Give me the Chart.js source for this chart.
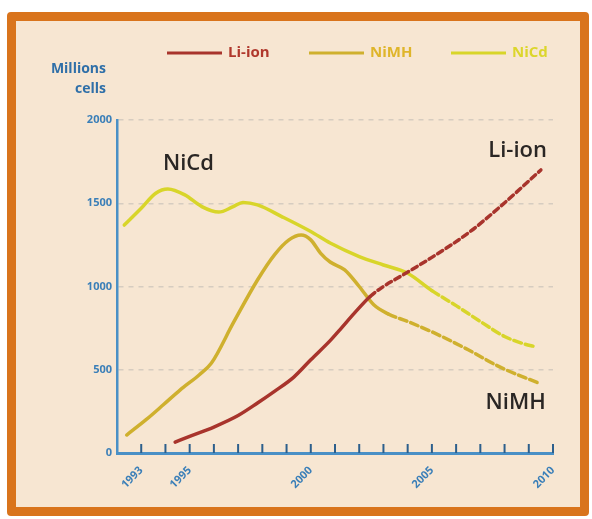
<!DOCTYPE html>
<html lang="en">
<head>
<meta charset="UTF-8">
<title>Battery cells by chemistry</title>
<script src="https://cdn.jsdelivr.net/npm/chart.js@4.4.1/dist/chart.umd.min.js"></script>
<style>
    body {
        margin: 0;
        background: #ffffff;
        font-family: 'Open Sans', sans-serif;
    }
    .frame {
        position: absolute;
        left: 7px;
        top: 12px;
        width: 582px;
        height: 504px;
        box-sizing: border-box;
        border: 9px solid #d9741c;
        border-radius: 4px;
        background: #f7e6d2;
    }
    .wrap {
        position: absolute;
        left: 0;
        top: 0;
    }
</style>
</head>
<body>
<div class="frame"></div>
<div class="wrap"><canvas id="chart" width="592" height="519"></canvas></div>

<script>
    // data (year, millions of cells)
    const liionYears = [1994.4, 1995, 1996, 1997, 1997.8, 1998.5, 1999.3, 2000, 2000.8, 2001.2, 2001.8, 2002.45, 2003, 2003.8, 2005, 2006.5, 2007.8, 2009.5];
    const liionCells = [65, 100, 156, 225, 300, 370, 456, 560, 675, 740, 840, 940, 1000, 1069, 1175, 1321, 1477, 1700];

    const nimhYears = [1992.4, 1993.2, 1993.9, 1994.6, 1995.4, 1995.9, 1996.8, 1997.8, 1998.5, 1999.1, 1999.6, 2000, 2000.4, 2000.8, 2001.4, 2002, 2002.6, 2003.2, 2004, 2005.1, 2006.5, 2007.8, 2009.4];
    const nimhCells = [108, 200, 288, 378, 470, 540, 781, 1039, 1190, 1280, 1309, 1280, 1201, 1147, 1100, 1000, 890, 835, 790, 721, 620, 517, 420];

    const nicdYears = [1992.3, 1993, 1993.6, 1994.1, 1994.8, 1995.5, 1996.2, 1996.8, 1997.2, 1997.8, 1998.8, 2000, 2000.8, 2002, 2003, 2004, 2005, 2006, 2007, 2008, 2008.7, 2009.3];
    const nicdCells = [1369, 1470, 1560, 1585, 1550, 1480, 1447, 1480, 1505, 1490, 1420, 1330, 1261, 1180, 1129, 1080, 975, 885, 790, 700, 660, 637];

    // forecast part of each curve is dashed from these years on
    const liionDashFrom = 2002.45;
    const nimhDashFrom = 2003.2;
    const nicdDashFrom = 2004.5;

    const yTicks = [0, 500, 1000, 1500, 2000];
    const xLabels = [1993, 1995, 2000, 2005, 2010];

    const seriesNames = ['Li-ion', 'NiMH', 'NiCd'];
    const lineColors = ['#a8342c', '#cfb02e', '#d8d52a'];
    const legendTextColors = ['#b0382c', '#dfb52a', '#dcd62c'];

    function toPoints(xs, ys) {
        return xs.map((x, i) => ({ x: x, y: ys[i] }));
    }

    function dashAfter(year, pattern) {
        return ctx => ctx.p0.parsed.x >= year ? pattern : undefined;
    }

    const blue = '#3b7fb8';

    // legend, axis caption, curve names and inward x ticks
    const extrasPlugin = {
        id: 'extras',
        afterDraw(chart) {
            const { ctx, scales: { x, y } } = chart;
            ctx.save();

            // small ticks pointing up from the x axis
            ctx.strokeStyle = '#2d5f8c';
            ctx.lineWidth = 2;
            x.ticks.forEach(t => {
                if (t.value <= x.min) return;
                const px = x.getPixelForValue(t.value);
                ctx.beginPath();
                ctx.moveTo(px, y.bottom);
                ctx.lineTo(px, y.bottom - 9);
                ctx.stroke();
            });

            // legend
            const legendStart = [167, 309, 451];
            ctx.font = 'bold 15px "Open Sans"';
            ctx.textBaseline = 'middle';
            ctx.textAlign = 'left';
            chart.data.datasets.forEach((ds, i) => {
                const lx = legendStart[i];
                ctx.strokeStyle = ds.borderColor;
                ctx.lineWidth = 3;
                ctx.beginPath();
                ctx.moveTo(lx, 53);
                ctx.lineTo(lx + 55, 53);
                ctx.stroke();
                ctx.fillStyle = legendTextColors[i];
                ctx.fillText(ds.label, lx + 61, 53);
            });

            // axis caption
            ctx.fillStyle = '#2f6fa8';
            ctx.font = 'bold 14px "Open Sans"';
            ctx.textAlign = 'right';
            ctx.fillText('Millions', 106, 69);
            ctx.fillText('cells', 106, 89);

            // curve names
            ctx.fillStyle = '#2a2624';
            ctx.font = '600 22px "Open Sans"';
            ctx.textAlign = 'center';
            ctx.fillText('NiCd', x.getPixelForValue(1994.95), y.getPixelForValue(1736));
            ctx.textAlign = 'right';
            ctx.fillText('Li-ion', x.getPixelForValue(2009.75), y.getPixelForValue(1814));
            ctx.fillText('NiMH', x.getPixelForValue(2009.7), y.getPixelForValue(300));

            ctx.restore();
        }
    };

    new Chart(document.getElementById('chart'), {
        type: 'line',
        data: {
            datasets: [
                {
                    label: seriesNames[0],
                    data: toPoints(liionYears, liionCells),
                    borderColor: lineColors[0],
                    segment: { borderDash: dashAfter(liionDashFrom, [6, 4]) }
                },
                {
                    label: seriesNames[1],
                    data: toPoints(nimhYears, nimhCells),
                    borderColor: lineColors[1],
                    segment: { borderDash: dashAfter(nimhDashFrom, [8, 4]) }
                },
                {
                    label: seriesNames[2],
                    data: toPoints(nicdYears, nicdCells),
                    borderColor: lineColors[2],
                    segment: { borderDash: dashAfter(nicdDashFrom, [8, 4]) }
                }
            ]
        },
        options: {
            responsive: false,
            animation: false,
            elements: {
                point: { radius: 0 },
                line: { borderWidth: 3.5, cubicInterpolationMode: 'monotone', fill: false, borderCapStyle: 'round' }
            },
            layout: {
                padding: { left: 0, top: 120, right: 39, bottom: 0 }
            },
            plugins: {
                legend: { display: false },
                tooltip: { enabled: false }
            },
            scales: {
                x: {
                    type: 'linear',
                    min: 1992,
                    max: 2010,
                    afterFit(scale) { scale.height = 66; },
                    ticks: {
                        stepSize: 1,
                        autoSkip: false,
                        minRotation: 45,
                        maxRotation: 45,
                        padding: 3,
                        color: blue,
                        font: { family: 'Open Sans', size: 11, weight: 'bold' },
                        callback: v => xLabels.includes(v) ? String(v) : ''
                    },
                    grid: { display: false },
                    border: { color: '#4a90c6', width: 3 }
                },
                y: {
                    min: 0,
                    max: 2000,
                    afterFit(scale) { scale.width = 117; },
                    afterBuildTicks(scale) { scale.ticks = yTicks.map(v => ({ value: v })); },
                    ticks: {
                        padding: 5,
                        color: blue,
                        font: { family: 'Open Sans', size: 11, weight: 'bold' },
                        callback: v => String(v)
                    },
                    grid: {
                        drawTicks: false,
                        lineWidth: 1.5,
                        color: ctx => ctx.tick && ctx.tick.value === 0 ? 'rgba(0,0,0,0)' : '#d6ccc0'
                    },
                    border: { color: '#4a90c6', width: 2.5, dash: [5, 5] }
                }
            }
        },
        plugins: [extrasPlugin]
    });
</script>
</body>
</html>
